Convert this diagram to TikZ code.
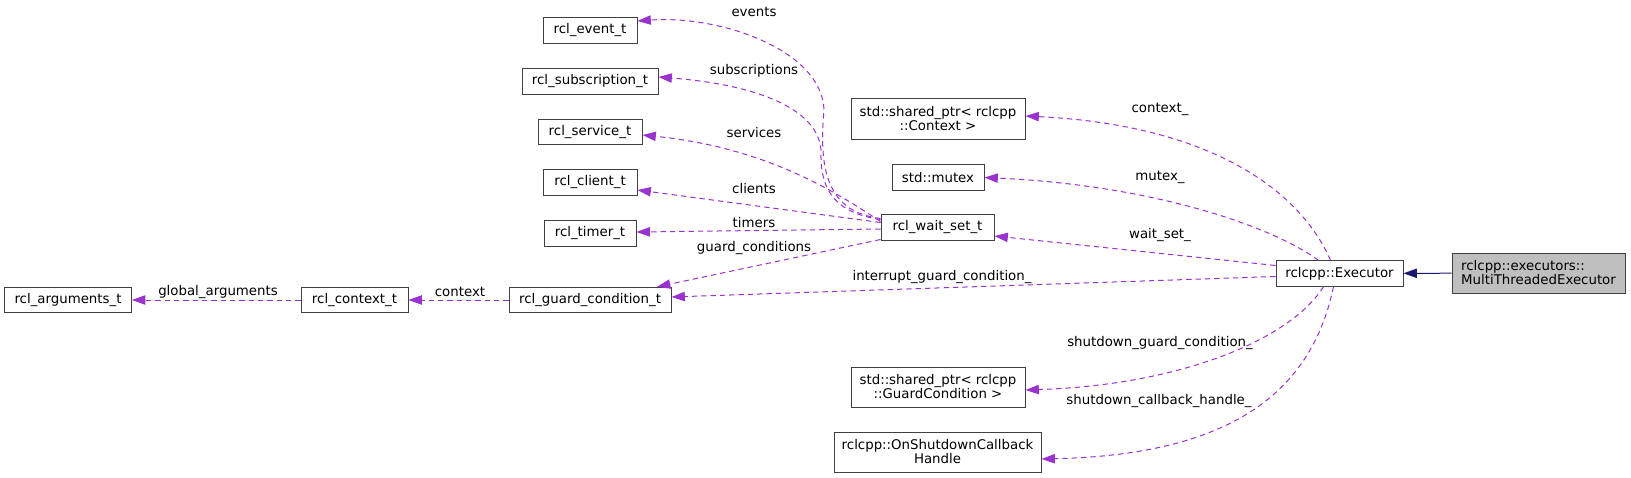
\documentclass[tikz,border=0pt]{standalone}
\usepackage{fontspec}
\setmainfont{DejaVu Sans}
\usepackage{xcolor}
\usepackage{tikz}
\usetikzlibrary{calc,arrows.meta}
\definecolor{orchid}{HTML}{9A32CD}
\definecolor{midnight}{HTML}{191970}
\definecolor{grey75}{HTML}{BFBFBF}
\definecolor{edgegrey}{HTML}{404040}
\newcommand{\cls}[5][]{\node[box,minimum width=#4*0.75pt,#1] (#2) at (#3) {#5};}

\begin{document}
\begin{tikzpicture}[x=0.75pt,y=-0.75pt,
  box/.style={draw=edgegrey,fill=white,line width=0.75pt,inner sep=0pt,minimum height=19pt,align=center,font=\fontsize{10}{10.5}\selectfont},
  box2/.style={minimum height=30pt},
  uses/.style={orchid,line width=0.75pt,dash pattern=on 4pt off 3pt,-{Triangle[length=10pt,width=7pt]}},
  inh/.style={midnight,line width=0.75pt,-{Triangle[length=10pt,width=7pt]}},
  lbl/.style={inner sep=0pt,font=\fontsize{10}{12}\selectfont}]
\useasboundingbox (0,0) rectangle (1631,478);
% classes
\cls{arg}{68,300}{127}{rcl\_arguments\_t}
\cls{ctx}{354.5,300}{107}{rcl\_context\_t}
\cls{gc}{590,300}{162}{rcl\_guard\_condition\_t}
\cls{evt}{590,30.5}{94}{rcl\_event\_t}
\cls{sub}{590,81.5}{136}{rcl\_subscription\_t}
\cls{srv}{590,132}{104}{rcl\_service\_t}
\cls{cli}{590,182.5}{94}{rcl\_client\_t}
\cls{tim}{590,233.5}{92}{rcl\_timer\_t}
\cls{ws}{937.5,227.5}{113}{rcl\_wait\_set\_t}
\cls[box2]{sctx}{938,119}{174}{std::shared\_ptr< rclcpp\\::Context >}
\cls{mtx}{938,177.5}{92}{std::mutex}
\cls[box2]{sgc}{938,387}{174}{std::shared\_ptr< rclcpp\\::GuardCondition >}
\cls[box2]{osh}{937.5,452}{207}{rclcpp::OnShutdownCallback\\Handle}
\cls{exe}{1339.5,273.5}{127}{rclcpp::Executor}
\cls[box2,fill=grey75,align=left]{mte}{1538.5,273}{173}{rclcpp::executors::\\MultiThreadedExecutor}
% inheritance
\draw[inh] (mte) -- (exe);
% members of Executor
\draw[uses] ($(exe.north)+(-9,0)$) .. controls (1300,190) and (1210,125) .. ($(sctx.east)+(0,-3)$);
\draw[uses] ($(exe.north)+(-21,0)$) .. controls (1270,225) and (1150,185) .. (mtx.east);
\draw[uses] ($(exe.west)+(0,-8)$) -- ($(ws.east)+(0,8.5)$);
\draw[uses] ($(exe.west)+(0,3)$) -- ($(gc.east)+(0,-3)$);
\draw[uses] ($(exe.south)+(-16,0)$) .. controls (1290,340) and (1180,385) .. ($(sgc.east)+(0,3)$);
\draw[uses] ($(exe.south)+(-6,0)$) .. controls (1310,400) and (1220,455) .. ($(osh.east)+(0,7)$);
% members of rcl_wait_set_t
\draw[uses] ($(ws.west)+(0,-9)$) .. controls (830,212) and (818,175) .. (824,110) .. controls (822,50) and (720,15) .. ($(evt.east)+(0,-9.5)$);
\draw[uses] ($(ws.west)+(0,-8)$) .. controls (830,212) and (820,185) .. (821,150) .. controls (818,110) and (760,85) .. ($(sub.east)+(0,-4.5)$);
\draw[uses] ($(ws.west)+(0,-6)$) .. controls (840,195) and (770,148) .. ($(srv.east)+(0,3)$);
\draw[uses] ($(ws.west)+(0,-5)$) -- ($(cli.east)+(0,7.5)$);
\draw[uses] ($(ws.west)+(0,1.5)$) -- ($(tim.east)+(0,-1.5)$);
\draw[uses] ($(ws.west)+(0,12)$) -- ($(gc.north)+(67,0)$);
\draw[uses] (gc) -- (ctx);
\draw[uses] (ctx) -- (arg);
% edge labels
\node[lbl] (levt) at (754,12) {events}; \node[lbl] (lsub) at (754,71) {subscriptions}; \node[lbl] (lsrv) at (754,133) {services};
\node[lbl] (lcli) at (754,189) {clients}; \node[lbl] (ltim) at (754,223) {timers}; \node[lbl] (lgcs) at (754,248) {guard\_conditions};
\node[lbl] (ligc) at (942,277) {interrupt\_guard\_condition\_};
\node[lbl] (lctx) at (1160,109) {context\_}; \node[lbl] (lmtx) at (1160,177) {mutex\_}; \node[lbl] (lws) at (1160,235) {wait\_set\_};
\node[lbl] (lsgc) at (1160,343) {shutdown\_guard\_condition\_}; \node[lbl] (losh) at (1159,401) {shutdown\_callback\_handle\_};
\node[lbl] (lgc) at (460,292) {context}; \node[lbl] (larg) at (218,292) {global\_arguments};
\end{tikzpicture}
\end{document}
